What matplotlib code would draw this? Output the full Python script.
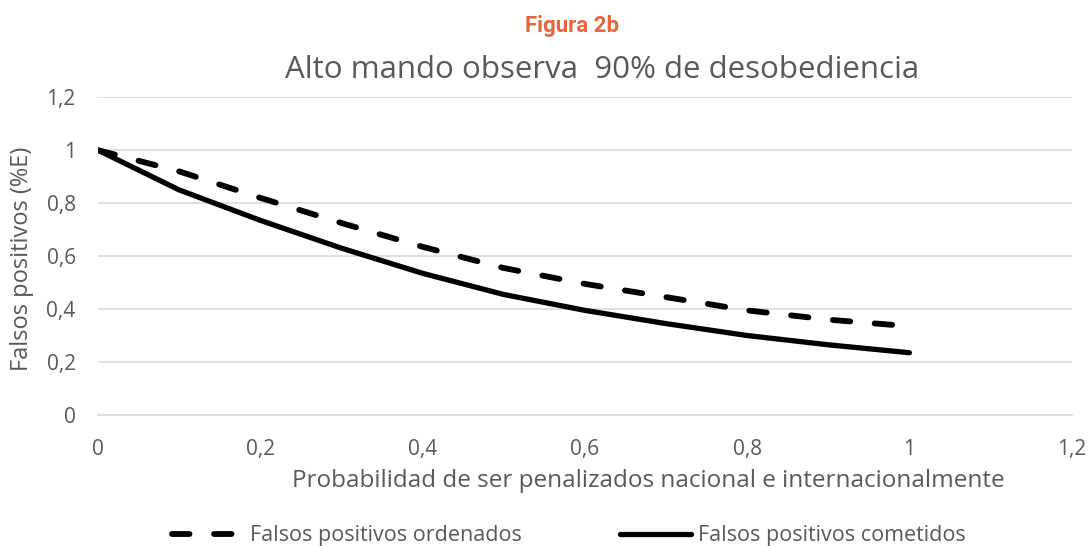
import matplotlib.pyplot as plt
from matplotlib.ticker import FuncFormatter

# data
prob = [0.0, 0.1, 0.2, 0.3, 0.4, 0.5, 0.6, 0.7, 0.8, 0.9, 1.0]
fp_ordenados = [1.0, 0.92, 0.82, 0.725, 0.635, 0.555, 0.495, 0.445, 0.395, 0.36, 0.335]
fp_cometidos = [1.0, 0.85, 0.735, 0.63, 0.535, 0.455, 0.395, 0.345, 0.30, 0.265, 0.235]
xticks = [0, 0.2, 0.4, 0.6, 0.8, 1.0, 1.2]
yticks = [0, 0.2, 0.4, 0.6, 0.8, 1.0, 1.2]

plt.rcParams['font.family'] = ['Open Sans', 'DejaVu Sans']

fig = plt.figure(figsize=(10.88, 5.46), dpi=100)
fig.patch.set_facecolor('white')
ax = fig.add_axes([0.090, 0.240, 0.895, 0.582])

ax.plot(prob, fp_ordenados, color='black', lw=4.2, ls=(0, (3.0, 4.2)),
        solid_capstyle='round', dash_capstyle='round',
        label='Falsos positivos ordenados')
ax.plot(prob, fp_cometidos, color='black', lw=3.8, solid_capstyle='round',
        solid_joinstyle='round', label='Falsos positivos cometidos')

ax.set_xlim(0, 1.2)
ax.set_ylim(0, 1.2)
ax.set_xticks(xticks)
ax.set_yticks(yticks)


def comma(v, pos):
    s = f'{v:.1f}'.rstrip('0').rstrip('.')
    return s.replace('.', ',')


ax.xaxis.set_major_formatter(FuncFormatter(comma))
ax.yaxis.set_major_formatter(FuncFormatter(comma))

ax.grid(axis='y', color='#d9d9d9', lw=1.2)
ax.set_axisbelow(True)
for s in ['top', 'right', 'left']:
    ax.spines[s].set_visible(False)
ax.spines['bottom'].set_color('#d9d9d9')
ax.spines['bottom'].set_linewidth(1.2)
ax.tick_params(length=0, labelsize=15, labelcolor='#595959')
ax.tick_params(axis='y', pad=16)
ax.tick_params(axis='x', pad=17)

ax.set_xlabel('Probabilidad de ser penalizados nacional e internacionalmente',
              fontsize=17.5, color='#595959')
ax.xaxis.set_label_coords(0.565, -0.2075)
ax.xaxis.label.set_va('center')
ax.set_ylabel('Falsos positivos (%E)', fontsize=17, color='#595959')
ax.yaxis.set_label_coords(-0.078, 0.49)
ax.yaxis.label.set_va('center')

fig.text(0.553, 0.872, 'Alto mando observa  90% de desobediencia',
         ha='center', va='center', fontsize=22.5, color='#595959')
fig.text(0.526, 0.952, 'Figura 2b', ha='center', va='center',
         fontsize=16, color='#e8643a', fontweight='bold',
         family=['Liberation Sans Narrow', 'Roboto', 'DejaVu Sans'])

leg = fig.legend(loc='center left', bbox_to_anchor=(172 / 1088, 0.019), ncol=2,
                 frameon=False, fontsize=15.5, handlelength=3.3,
                 handletextpad=0.3, columnspacing=4.6,
                 borderpad=0, borderaxespad=0)
for t in leg.get_texts():
    t.set_color('#595959')

fig.savefig('out.png', dpi=100, facecolor='white')
